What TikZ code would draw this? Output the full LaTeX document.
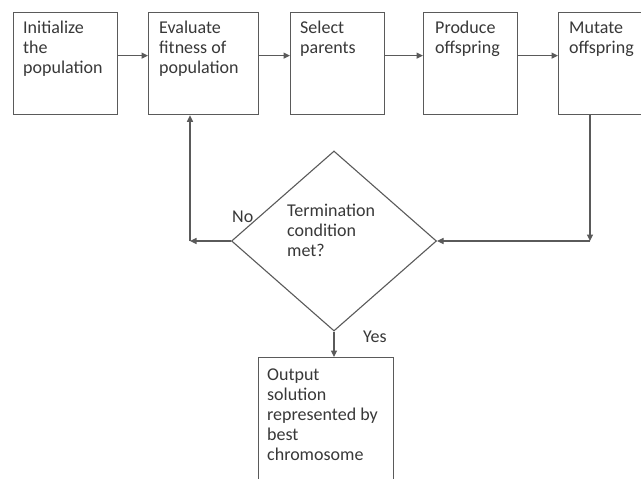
\documentclass[tikz,border=0pt]{standalone}
\usepackage{fontspec}
\setmainfont{Carlito}
\usetikzlibrary{arrows.meta,shapes.geometric,calc}
\definecolor{linec}{HTML}{5A5A5A}
\definecolor{textc}{HTML}{383838}
\begin{document}
\begin{tikzpicture}[x=1pt,y=-1pt,
  box/.style={draw=linec,line width=1.3pt,rectangle,inner sep=0pt,anchor=north west},
  lbl/.style={anchor=north west,inner sep=0pt,text=textc,align=left,font=\fontsize{18}{20}\selectfont},
  arr/.style={draw=linec,line width=1.1pt,-{Triangle[length=6.5pt,width=6pt]}},
  ln/.style={draw=linec,line width=1.1pt}]
\useasboundingbox[fill=white] (0,0) rectangle (641,479);
% boxes
\node[box,minimum width=104pt,minimum height=102pt] (b1) at (13,12) {};
\node[box,minimum width=110pt,minimum height=102pt] (b2) at (148,12) {};
\node[box,minimum width=94pt,minimum height=102pt] (b3) at (290,12) {};
\node[box,minimum width=94pt,minimum height=102pt] (b4) at (423,12) {};
\node[box,minimum width=102pt,minimum height=102pt] (b5) at (558,12) {};
\node[box,minimum width=135pt,minimum height=140pt] (out) at (258,357) {};
\node[draw=linec,line width=1.1pt,diamond,inner sep=0pt,minimum width=205pt,minimum height=180pt] (dia) at (334,241) {};
% texts (north = first baseline - 14)
\node[lbl] (t1) at (23,19) {\strut Initialize\\the\\population};
\node[lbl] (t2) at (159,19) {\strut Evaluate\\fitness of\\population};
\node[lbl] (t3) at (300,19) {\strut Select\\parents};
\node[lbl] (t4) at (435,19) {\strut Produce\\offspring};
\node[lbl] (t5) at (569,19) {\strut Mutate\\offspring};
\node[lbl] (td) at (287,202) {\strut Termination\\condition\\met?};
\node[lbl] (to) at (267,366) {\strut Output\\solution\\represented by\\best\\chromosome};
\node[lbl] (no) at (232,208) {\strut No};
\node[lbl] (yes) at (363,328) {\strut Yes};
% connectors
\draw[arr] ([yshift=8pt]b1.east) -- ([yshift=8pt]b2.west);
\draw[arr] ([yshift=8pt]b2.east) -- ([yshift=8pt]b3.west);
\draw[arr] ([yshift=8pt]b3.east) -- ([yshift=8pt]b4.west);
\draw[arr] ([yshift=8pt]b4.east) -- ([yshift=8pt]b5.west);
\coordinate (c1) at (590,241);
\coordinate (c2) at (190,241);
\draw[arr] ([xshift=32pt]b5.south west) -- (c1);
\draw[arr] (c1) -- (dia.east);
\draw[arr] (dia.west) -- (c2);
\draw[arr] (c2) -- (c2 |- b2.south);
\draw[arr] (dia.south) -- (dia.south |- out.north);
\end{tikzpicture}
\end{document}
